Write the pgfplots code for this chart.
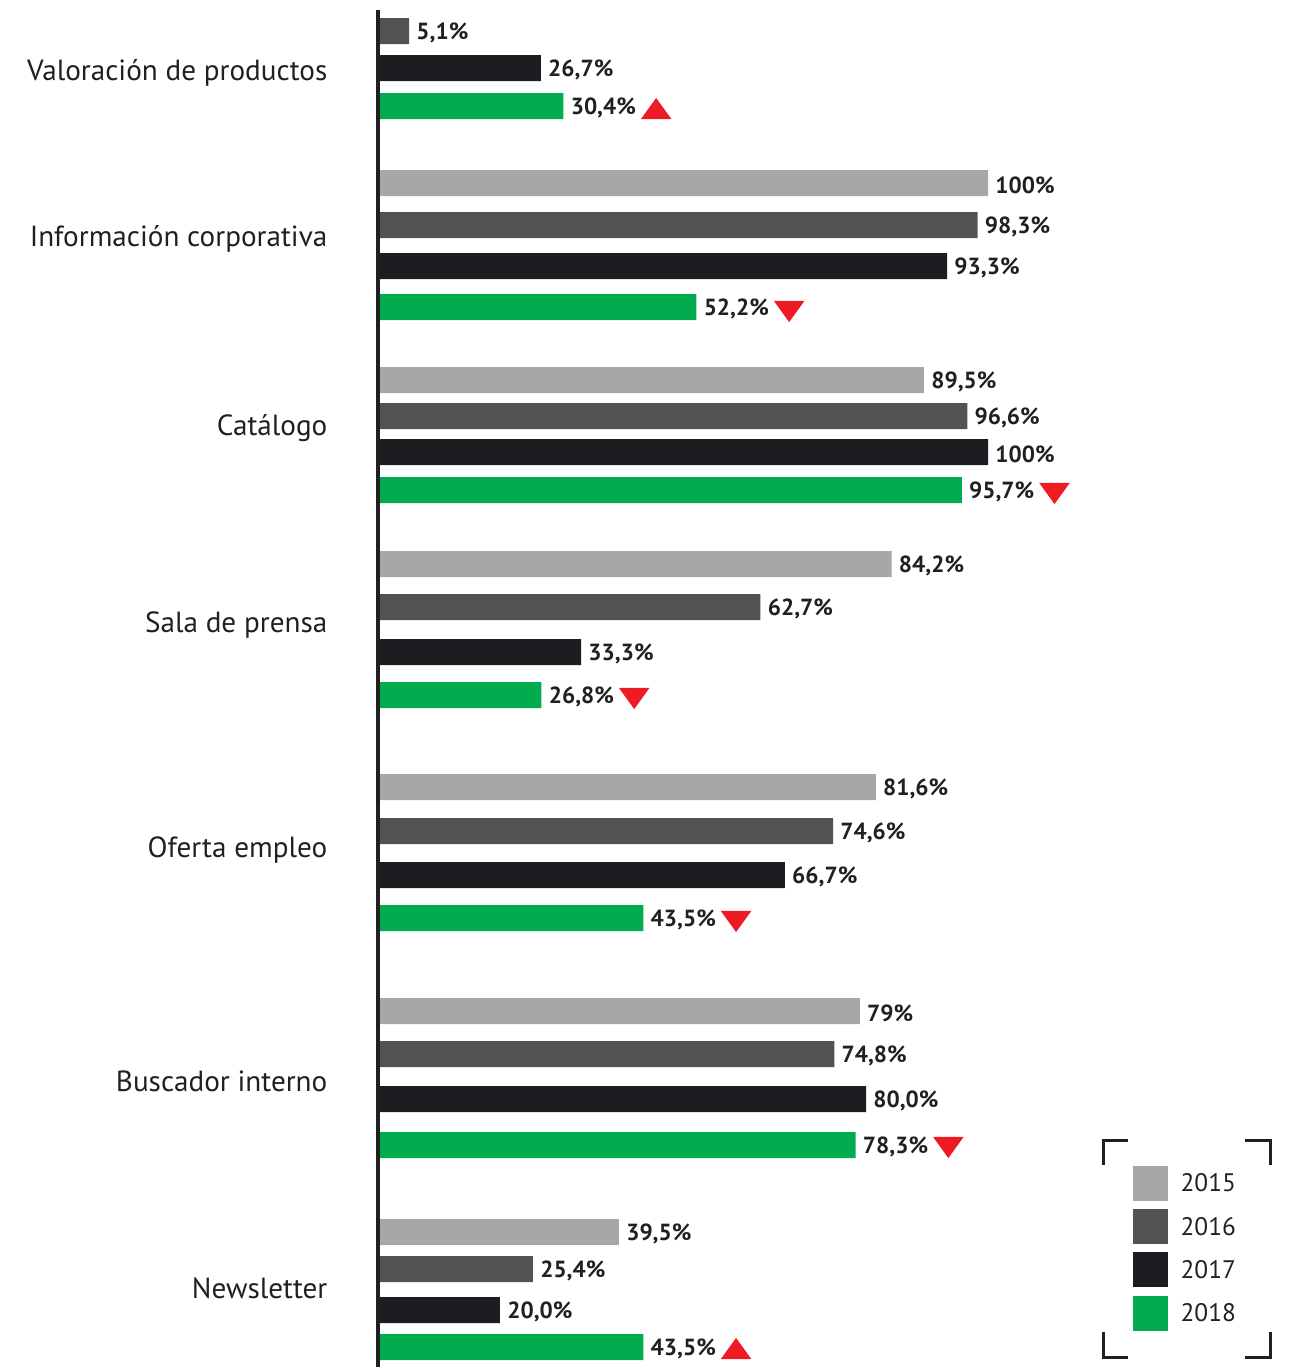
\documentclass[border=0pt]{standalone}
\usepackage{pgfplots}
\pgfplotsset{compat=1.18}
\usepackage{fontspec}
\setmainfont{PT Sans}
\definecolor{c15}{HTML}{A7A7A9}
\definecolor{c16}{HTML}{545254}
\definecolor{c17}{HTML}{1B1D20}
\definecolor{c17l}{HTML}{231F20}
\definecolor{c18}{HTML}{00AC4E}
\definecolor{tri}{HTML}{ED1C24}
\definecolor{txt}{HTML}{231F20}
\begin{document}
\begin{tikzpicture}
\begin{axis}[
  scale only axis,
  width=274.8pt, height=410.1pt,
  xmin=0, xmax=150.16,
  ymin=0, ymax=1367,
  y dir=reverse,
  axis line style={draw=none},
  tick style={draw=none},
  xtick=\empty,
  ytick={73,239,428,625,850,1081,1288},
  yticklabels={Valoración de productos,Información corporativa,Catálogo,Sala de prensa,Oferta empleo,Buscador interno,Newsletter},
  yticklabel style={anchor=east, inner sep=0pt, xshift=-15pt, font=\fontsize{8.75}{10}\selectfont, text=txt},
  clip=false,
  barstyle/.style={xbar, bar shift=0pt, bar width=26, draw=none,
    point meta=explicit symbolic,
    nodes near coords,
    every node near coord/.append style={anchor=west, inner sep=2pt, yshift=-0.6pt, font=\bfseries\fontsize{7}{8}\selectfont, text=txt}},
  legend image code/.code={\fill[#1] (0pt,-4.6pt) rectangle (10.5pt,5.9pt);},
  legend style={draw=none, fill=none, inner sep=0pt, row sep=2.5pt,
    at={(axis cs:123.6,1165)}, anchor=north west,
    nodes={inner sep=0pt, text=txt, font=\fontsize{7.6}{9}\selectfont},
    /tikz/every odd column/.append style={column sep=3.9pt}},
  legend cell align=left,
]
\addplot[barstyle, fill=c15] coordinates {
  (100,183) [100\%]
  (89.5,380) [89,5\%]
  (84.2,564) [84,2\%]
  (81.6,787) [81,6\%]
  (79,1011) [79\%]
  (39.5,1232) [39,5\%]
};
\addlegendentry{2015}
\addplot[barstyle, fill=c16] coordinates {
  (5.1,31) [5,1\%]
  (98.3,225) [98,3\%]
  (96.6,416) [96,6\%]
  (62.7,607) [62,7\%]
  (74.6,831) [74,6\%]
  (74.8,1054) [74,8\%]
  (25.4,1269) [25,4\%]
};
\addlegendentry{2016}
\addplot[barstyle, fill=c17] coordinates {
  (26.7,68) [26,7\%]
  (93.3,266) [93,3\%]
  (100,452) [100\%]
  (33.3,652) [33,3\%]
  (66.7,875) [66,7\%]
  (80.0,1099) [80,0\%]
  (20.0,1310) [20,0\%]
};
\addlegendentry{2017}
\addplot[barstyle, fill=c18] coordinates {
  (30.4,106) [30,4\%]
  (52.2,307) [52,2\%]
  (95.7,490) [95,7\%]
  (26.8,695) [26,8\%]
  (43.5,918) [43,5\%]
  (78.3,1145) [78,3\%]
  (43.5,1347) [43,5\%]
};
\addlegendentry{2018}
\addplot[only marks, forget plot, mark=triangle*, mark size=4.85pt, color=tri, mark options={yscale=0.8}] coordinates {
  (45.6,112) (58.7,1352)
};
\addplot[only marks, forget plot, mark=triangle*, mark size=4.85pt, color=tri, mark options={rotate=180, yscale=0.8}] coordinates {
  (67.4,308) (110.9,490) (42.0,695) (58.7,918) (93.5,1144)
};
\draw[line width=1.1pt, txt] (axis cs:0,10) -- (axis cs:0,1367);
\draw[line width=0.9pt, txt] (axis cs:118.85,1165) -- (axis cs:118.85,1140) -- (axis cs:122.95,1140);
\draw[line width=0.9pt, txt] (axis cs:142.13,1140) -- (axis cs:146.23,1140) -- (axis cs:146.23,1165);
\draw[line width=0.9pt, txt] (axis cs:118.85,1332) -- (axis cs:118.85,1357) -- (axis cs:122.95,1357);
\draw[line width=0.9pt, txt] (axis cs:142.13,1357) -- (axis cs:146.23,1357) -- (axis cs:146.23,1332);
\end{axis}
\pgfresetboundingbox
\path[use as bounding box] (-113.4pt,0pt) rectangle (274.8pt,410.1pt);
\end{tikzpicture}
\end{document}
